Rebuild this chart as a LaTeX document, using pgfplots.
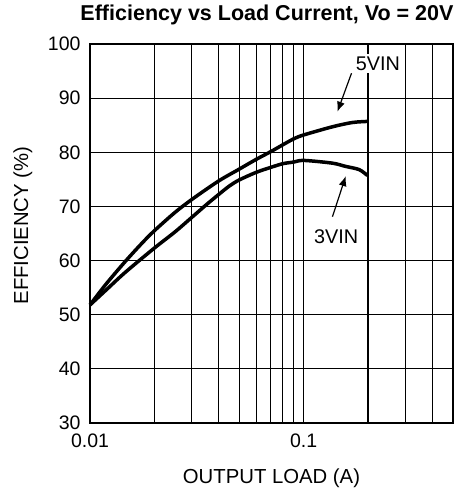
\documentclass[border=0pt]{standalone}
\usepackage{fontspec}
\setmainfont{Liberation Sans}
\usepackage{pgfplots}
\pgfplotsset{compat=1.18}
\usetikzlibrary{arrows.meta}
\begin{document}
\begin{tikzpicture}
\begin{axis}[
  scale only axis, width=363pt, height=379pt,
  xmode=log, xmin=0.01, xmax=0.5, ymin=30, ymax=100,
  xtick={0.01,0.1}, xticklabels={0.01,0.1},
  minor xtick={0.02,0.03,0.04,0.05,0.06,0.07,0.08,0.09,0.2,0.3,0.4},
  ytick={30,40,50,60,70,80,90,100},
  grid=both,
  major grid style={black, line width=1.1pt},
  minor grid style={black, line width=1.1pt},
  axis line style={black, line width=1.8pt},
  major tick length=0pt, minor tick length=0pt,
  tick style={draw=none},
  /pgf/number format/assume math mode=true,
  tick label style={font=\fontsize{19.5}{22}\selectfont},
  xticklabel style={yshift=-7pt},
  yticklabel style={xshift=-6pt},
  title={Efficiency vs Load Current, Vo = 20V},
  title style={font=\bfseries\fontsize{21.5}{24}\selectfont, at={(axis description cs:0.4876,1.0607)}, anchor=center},
  xlabel={OUTPUT LOAD (A)},
  ylabel={EFFICIENCY (\%)},
  label style={font=\fontsize{20.3}{24}\selectfont},
  xlabel style={at={(axis description cs:0.5,-0.147)}, anchor=center},
  ylabel style={at={(axis description cs:-0.185,0.521)}, anchor=center},
  clip=false,
]
% 5VIN
\addplot[black, line width=3.5pt, smooth, line join=round] coordinates {
(0.0100,51.8) (0.0118,55.5) (0.0146,59.8) (0.0175,63.2) (0.0200,65.5)
(0.0250,68.9) (0.0300,71.3) (0.0400,74.7) (0.0500,76.9) (0.0600,78.7)
(0.0700,80.1) (0.0800,81.4) (0.0900,82.5) (0.1000,83.2) (0.1360,84.7)
(0.1690,85.5) (0.1990,85.7)
};
% 3VIN
\addplot[black, line width=3.5pt, smooth, line join=round] coordinates {
(0.0100,51.8) (0.0120,54.7) (0.0146,57.8) (0.0200,62.3) (0.0250,65.3)
(0.0300,68.0) (0.0350,70.3) (0.0400,72.2) (0.0450,73.8) (0.0500,74.9)
(0.0600,76.3) (0.0700,77.2) (0.0800,77.9) (0.0900,78.2) (0.1000,78.5)
(0.1360,78.0) (0.1570,77.4) (0.1820,76.8) (0.1990,75.7)
};
\node[fill=white, inner sep=3pt, font=\fontsize{19.8}{22}\selectfont] at (axis cs:0.2225,96.4) {5VIN};
\node[font=\fontsize{19.8}{22}\selectfont] at (axis cs:0.142,64.4) {3VIN};
\draw[-{Latex[length=10pt,width=8pt]}, line width=1.2pt] (axis cs:0.1675,94.6) -- (axis cs:0.1439,87.5);
\draw[-{Latex[length=10pt,width=8pt]}, line width=1.2pt] (axis cs:0.1364,68.1) -- (axis cs:0.1574,75.6);
\coordinate (bl) at (axis description cs:-0.2479,-0.1741);
\coordinate (tr) at (axis description cs:1.0110,1.1161);
\end{axis}
\pgfresetboundingbox
\path (bl) rectangle (tr);
\end{tikzpicture}
\end{document}
